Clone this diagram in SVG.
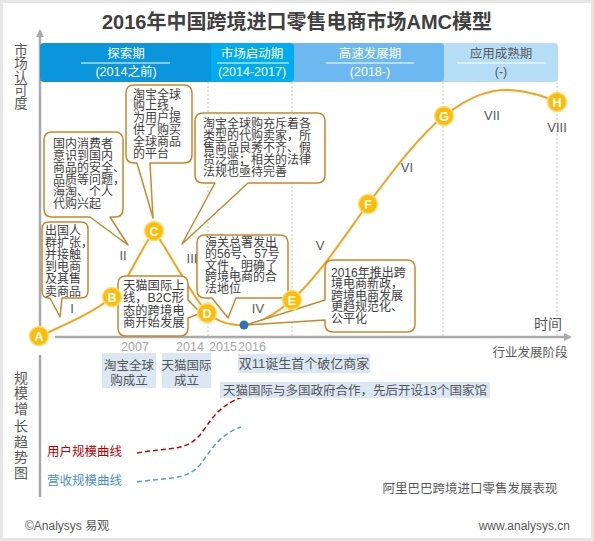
<svg xmlns="http://www.w3.org/2000/svg" width="594" height="541" viewBox="0 0 594 541">
<defs>
<style>
text{font-family:"Liberation Sans","Noto Sans CJK SC",sans-serif;}
.title{font-size:20px;font-weight:bold;fill:#404040;}
.hd{font-size:12.5px;fill:#ffffff;text-anchor:middle;}
.hd4{font-size:12.5px;fill:#595959;text-anchor:middle;}
.ul{stroke:#ffffff;stroke-width:1.2;}
.side{font-size:13.5px;fill:#595959;text-anchor:middle;}
.bub{fill:#ffffff;stroke:#c8882c;stroke-width:1.5;stroke-linejoin:round;}
.bt{font-size:12px;fill:#404040;}
.rom{font-size:13px;fill:#595959;text-anchor:middle;}
.pt{fill:#fbbd08;stroke:#fedb7a;stroke-width:1.5;}
.pl{font-size:12.5px;font-weight:bold;fill:#ffffff;text-anchor:middle;}
.dash{stroke:#b3b3b3;stroke-width:0.8;stroke-dasharray:2,2;fill:none;}
.yr{font-size:12.5px;fill:#a6a6a6;text-anchor:middle;}
.box{fill:#dbe8f4;}
.boxt{font-size:12.5px;fill:#555555;text-anchor:middle;}
.lab{font-size:12.5px;fill:#595959;}
</style>
<marker id="ah" markerWidth="8" markerHeight="8" refX="6" refY="4" orient="auto" markerUnits="userSpaceOnUse">
<path d="M0,0 L8,4 L0,8 Z" fill="#aaaaaa"/>
</marker>
</defs>
<rect x="1.5" y="1.5" width="591" height="538" fill="#ffffff" stroke="#e6e6e6" stroke-width="3"/>
<text class="title" x="297" y="29" text-anchor="middle">2016年中国跨境进口零售电商市场AMC模型</text>

<g id="axes">
<line x1="40" y1="332" x2="40" y2="31" stroke="#aaaaaa" stroke-width="2.5" marker-end="url(#ah)"/>
<line x1="55" y1="337" x2="570" y2="337" stroke="#aaaaaa" stroke-width="2.5" marker-end="url(#ah)"/>
<line x1="40" y1="355" x2="40" y2="497" stroke="#aaaaaa" stroke-width="2.5"/>
<text class="side" x="21" y="55">市</text>
<text class="side" x="21" y="68">场</text>
<text class="side" x="21" y="82">认</text>
<text class="side" x="21" y="95">可</text>
<text class="side" x="21" y="108">度</text>
<text class="side" x="21" y="383" style="font-size:14px">规</text>
<text class="side" x="21" y="398" style="font-size:14px">模</text>
<text class="side" x="21" y="414" style="font-size:14px">增</text>
<text class="side" x="21" y="431" style="font-size:14px">长</text>
<text class="side" x="21" y="447" style="font-size:14px">趋</text>
<text class="side" x="21" y="462" style="font-size:14px">势</text>
<text class="side" x="21" y="478" style="font-size:14px">图</text>
<text x="548" y="329" style="font-size:14px;fill:#595959" text-anchor="middle">时间</text>
<text x="530" y="357" style="font-size:12.5px;fill:#595959" text-anchor="middle">行业发展阶段</text>
<text class="yr" x="135" y="351">2007</text>
<text class="yr" x="190" y="351">2014</text>
<text class="yr" x="223" y="351">2015</text>
<text class="yr" x="252" y="351">2016</text>
</g>

<g id="header">
<rect x="440" y="43" width="118" height="39" rx="4" fill="#b5ddf6"/>
<rect x="289" y="43" width="155" height="39" rx="4" fill="#6db8f0"/>
<rect x="206" y="43" width="88" height="39" rx="4" fill="#00acef"/>
<rect x="40" y="43" width="171" height="39" rx="4" fill="#0b95db"/>
<text class="hd" x="126" y="57.5">探索期</text>
<line class="ul" x1="81" y1="63" x2="170" y2="63"/>
<text class="hd" x="126" y="76">(2014之前)</text>
<text class="hd" x="252" y="57.5">市场启动期</text>
<line class="ul" x1="217" y1="63" x2="289" y2="63"/>
<text class="hd" x="252" y="76">(2014-2017)</text>
<text class="hd" x="370" y="57.5">高速发展期</text>
<line class="ul" x1="326" y1="63" x2="414" y2="63"/>
<text class="hd" x="370" y="76">(2018-)</text>
<text class="hd4" x="501" y="57.5">应用成熟期</text>
<line class="ul" x1="457" y1="63" x2="546" y2="63"/>
<text class="hd4" x="501" y="76">(-)</text>
</g>

<g id="gridlines">
<line class="dash" x1="208" y1="82" x2="208" y2="337"/>
<line class="dash" x1="292" y1="82" x2="292" y2="337"/>
<line class="dash" x1="443" y1="82" x2="443" y2="337"/>
<line class="dash" x1="557" y1="82" x2="557" y2="337"/>
</g>

<g id="connectors">
<path d="M38,337 C60,327 95,312 112,297 C128,282 140,250 154,231 C168,250 185,285 207,313 C218,322 232,326 244,325 C260,324 278,312 292,300 C320,275 345,235 368,204 C395,168 420,135 444,116 C470,96 490,89 510,90 C530,91 545,97 557,102" fill="none" stroke="#f7a11a" stroke-width="2"/>
<path d="M137,453 C170,447 185,452 200,435 C210,422 218,405 243,397" fill="none" stroke="#c00000" stroke-width="1.5" stroke-dasharray="5,3"/>
<path d="M137,482 C170,477 185,481 200,465 C210,452 218,435 241,427" fill="none" stroke="#5b9bd5" stroke-width="1.5" stroke-dasharray="5,3"/>
</g>

<g id="bubble-1">
<path class="bub" d="M49,222 H81 Q88,222 88,229 V291 Q88,298 81,298 H62 L60,317 L50,298 H49 Q42,298 42,291 V229 Q42,222 49,222 Z"/>
<text class="bt" x="45"><tspan x="45" y="234.5">出国人</tspan><tspan x="45" y="246.7">群扩张，</tspan><tspan x="45" y="258.9">并接触</tspan><tspan x="45" y="271.1">到电商</tspan><tspan x="45" y="283.3">及其售</tspan><tspan x="45" y="295.5">卖商品</tspan></text>
</g>
<g id="bubble-2">
<path class="bub" d="M52,132 H115 Q123,132 123,140 V209 Q123,217 115,217 H110 L128,245 L90,217 H52 Q44,217 44,209 V140 Q44,132 52,132 Z"/>
<text class="bt"><tspan x="53" y="147.5">国内消费者</tspan><tspan x="53" y="159.5">意识到国内</tspan><tspan x="53" y="171.5">商品的安全、</tspan><tspan x="53" y="183.5">品质等问题，</tspan><tspan x="53" y="195.5">海淘、个人</tspan><tspan x="53" y="207.5">代购兴起</tspan></text>
</g>
<g id="bubble-3">
<path class="bub" d="M134,85 H184 Q192,85 192,93 V155 Q192,163 184,163 H150 L153,218 L137,163 H134 Q126,163 126,155 V93 Q126,85 134,85 Z"/>
<text class="bt"><tspan x="133" y="98.5">淘宝全球</tspan><tspan x="133" y="110.3">购上线，</tspan><tspan x="133" y="122.1">为用户提</tspan><tspan x="133" y="133.9">供了购买</tspan><tspan x="133" y="145.7">全球商品</tspan><tspan x="133" y="157.5">的平台</tspan></text>
</g>
<g id="bubble-4">
<path class="bub" d="M203,113 H317 Q325,113 325,121 V175 Q325,183 317,183 H248 L182,244 L215,183 H203 Q195,183 195,175 V121 Q195,113 203,113 Z"/>
<text class="bt"><tspan x="203" y="127.5">淘宝全球购充斥着各</tspan><tspan x="203" y="139.5">类型的代购卖家，所</tspan><tspan x="203" y="151.5">售商品良莠不齐、假</tspan><tspan x="203" y="163.5">货泛滥；相关的法律</tspan><tspan x="203" y="175.5">法规也亟待完善</tspan></text>
</g>
<g id="bubble-5">
<path class="bub" d="M126,276 H180 Q188,276 188,284 V300 L201,313 L188,318 V328 Q188,336 180,336 H126 Q118,336 118,328 V284 Q118,276 126,276 Z"/>
<text class="bt" style="font-size:12.3px"><tspan x="123" y="289.5">天猫国际上</tspan><tspan x="123" y="302">线，B2C形</tspan><tspan x="123" y="314.5">态的跨境电</tspan><tspan x="123" y="327">商开始发展</tspan></text>
</g>
<g id="bubble-6">
<path class="bub" d="M205,235 H280 Q288,235 288,243 V290 Q288,298 280,298 H236 L228,318 L212,298 H205 Q197,298 197,290 V243 Q197,235 205,235 Z"/>
<text class="bt"><tspan x="205" y="246.5">海关总署发出</tspan><tspan x="205" y="258">的56号、57号</tspan><tspan x="205" y="269.5">文件，明确了</tspan><tspan x="205" y="281">跨境电商的合</tspan><tspan x="205" y="292.5">法地位</tspan></text>
</g>
<g id="bubble-7">
<path class="bub" d="M333,260 H407 Q415,260 415,268 V324 Q415,332 407,332 H333 Q325,332 325,324 V320 L246,325 L325,300 V268 Q325,260 333,260 Z"/>
<text class="bt"><tspan x="331" y="276.5">2016年推出跨</tspan><tspan x="331" y="288">境电商新政，</tspan><tspan x="331" y="299.5">跨境电商发展</tspan><tspan x="331" y="311">更趋规范化、</tspan><tspan x="331" y="322.5">公平化</tspan></text>
</g>

<g id="stages">
<text class="rom" x="72" y="313">I</text>
<text class="rom" x="123" y="260">II</text>
<text class="rom" x="192" y="263">III</text>
<text class="rom" x="258" y="313">IV</text>
<text class="rom" x="320" y="250">V</text>
<text class="rom" x="407" y="172">VI</text>
<text class="rom" x="492" y="120">VII</text>
<text class="rom" x="557" y="132">VIII</text>
</g>

<g id="point-A"><circle class="pt" cx="39" cy="336" r="9.5"/><text class="pl" x="39" y="340.5">A</text></g>
<g id="point-B"><circle class="pt" cx="112" cy="297" r="9.5"/><text class="pl" x="112" y="301.5">B</text></g>
<g id="point-C"><circle class="pt" cx="154" cy="231" r="9.5"/><text class="pl" x="154" y="235.5">C</text></g>
<g id="point-D"><circle class="pt" cx="207" cy="313" r="9.5"/><text class="pl" x="207" y="317.5">D</text></g>
<g id="point-2016"><circle cx="244" cy="325" r="4.5" fill="#2f75b5"/></g>
<g id="point-E"><circle class="pt" cx="292" cy="300" r="9.5"/><text class="pl" x="292" y="304.5">E</text></g>
<g id="point-F"><circle class="pt" cx="368" cy="204" r="9.5"/><text class="pl" x="368" y="208.5">F</text></g>
<g id="point-G"><circle class="pt" cx="444" cy="116" r="9.5"/><text class="pl" x="444" y="120.5">G</text></g>
<g id="point-H"><circle class="pt" cx="557" cy="102" r="9.5"/><text class="pl" x="557" y="106.5">H</text></g>

<g id="event-1"><rect class="box" x="102" y="353" width="54" height="35"/><text class="boxt"><tspan x="129" y="369.5">淘宝全球</tspan><tspan x="129" y="384.5">购成立</tspan></text></g>
<g id="event-2"><rect class="box" x="162" y="353" width="49" height="35"/><text class="boxt"><tspan x="186.5" y="369.5">天猫国际</tspan><tspan x="186.5" y="384.5">成立</tspan></text></g>
<g id="event-3"><rect class="box" x="238" y="354" width="132" height="19"/><text class="boxt" x="304" y="368" style="font-size:13px">双11诞生首个破亿商家</text></g>
<g id="event-4"><rect class="box" x="220" y="382" width="270" height="16"/><text class="boxt" x="355" y="394.5">天猫国际与多国政府合作，先后开设13个国家馆</text></g>

<g id="legend">
<text x="47" y="455.5" style="font-size:12.5px;fill:#c00000">用户规模曲线</text>
<text x="47" y="484.5" style="font-size:12.5px;fill:#4a8fd6">营收规模曲线</text>
<text class="lab" x="470" y="492.5" text-anchor="middle">阿里巴巴跨境进口零售发展表现</text>
<text class="lab" x="25" y="529.5" style="font-size:12px">©Analysys 易观</text>
<text class="lab" x="570" y="529.5" style="font-size:12px" text-anchor="end">www.analysys.cn</text>
</g>
</svg>
